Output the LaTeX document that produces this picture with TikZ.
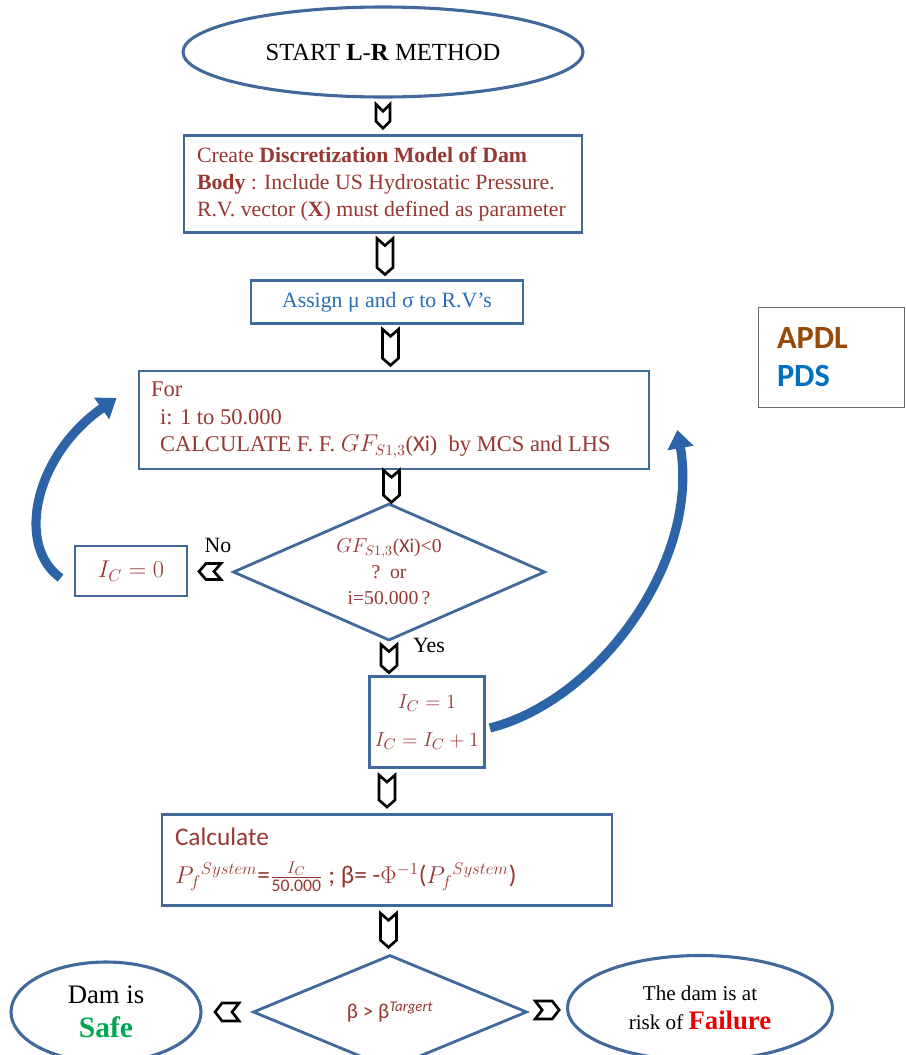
\documentclass[tikz,border=0pt]{standalone}
\usepackage{amsmath}
\usepackage{fontspec}
\setmainfont{Liberation Serif}
\setsansfont{Carlito}
\usetikzlibrary{shapes.geometric,arrows.meta,calc}

\definecolor{boxblue}{RGB}{65,105,155}
\definecolor{textred}{RGB}{150,55,50}
\definecolor{assignblue}{RGB}{40,110,180}
\definecolor{loopblue}{RGB}{45,100,168}
\definecolor{apdlbrown}{RGB}{152,72,7}
\definecolor{pdsblue}{RGB}{0,112,192}
\definecolor{safegreen}{RGB}{0,166,80}
\definecolor{failred}{RGB}{235,0,0}

\newlength\px
\setlength\px{0.025cm}

\begin{document}
\begin{tikzpicture}[
		x=0.025cm, y=-0.025cm,
		every node/.style={inner sep=0pt},
		blockbox/.style={draw=boxblue, line width=2pt, rectangle, align=flush left},
		termellipse/.style={draw=boxblue, line width=2.2pt, ellipse, align=center},
		decision/.style={draw=boxblue, line width=2pt, diamond, aspect=2.3, align=center},
		serif/.style={font=\fontsize{15.5}{19}\selectfont},
		looparrow/.style={draw=loopblue, line width=6.5pt, -{Triangle[length=13pt,width=18pt]}},
		pics/chev/.style args={#1/#2}{code={
				\draw[line width=1.9pt, fill=white] (-#2,-#1) -- (0,{-#1+7}) -- (#2,-#1) -- (#2,{#1-7}) -- (0,#1) -- (-#2,{#1-7}) -- cycle;
			}},
		]
		\useasboundingbox (0,0) rectangle (906,1055);
		
		%main column
		\node[termellipse, minimum width=400\px, minimum height=90\px, font=\fontsize{17.5}{20}\selectfont] (start) at (383,52) {START \textbf{L}-\textbf{R} METHOD};
		\node[blockbox, serif, text=textred, minimum width=398\px, minimum height=97\px, text width=372\px] (create) at (383,184) {Create \textbf{Discretization Model of Dam}\\ \textbf{Body} : Include US Hydrostatic Pressure.\\ R.V. vector (\textbf{X}) must defined as parameter};
		\node[blockbox, serif, text=assignblue, minimum width=272\px, minimum height=43\px, align=center] (assign) at (387,302) {Assign μ and σ to R.V’s};
		\node[blockbox, text=textred, minimum width=510\px, minimum height=98\px, text width=486\px, font=\fontsize{16}{19.5}\selectfont] (for) at (394,420) {For\\ \hspace{0.4em}i: 1 to 50.000\\ \hspace{0.4em}CALCULATE F. F. $GF_{S1,3}$(\textsf{Xi})\ \ by MCS and LHS};
		\node[decision, text=textred, minimum width=312\px, minimum height=137\px, font=\fontsize{14}{18.5}\selectfont] (cond) at (389,572) {$GF_{S1,3}$(\textsf{Xi})<0\\ ?\ \ or\\ i=50.000\,?};
		\node[blockbox, text=textred, minimum width=112\px, minimum height=50\px, align=center, font=\fontsize{17}{20}\selectfont] (ic0) at (131,571) {$I_C = 0$};
		\node[blockbox, text=textred, minimum width=115\px, minimum height=91\px, align=center, font=\fontsize{15.5}{27}\selectfont] (ic1) at (427,722) {$I_C = 1$\\ $I_C = I_C + 1$};
		\node[blockbox, text=textred, minimum width=450\px, minimum height=91\px, text width=424\px, font=\sffamily\fontsize{18}{27}\selectfont] (calc) at (387,860) {Calculate\\ $P_f{}^{System}$=$\frac{I_C}{\textsf{50.000}}$\ ; β= -$\Phi^{-1}$($P_f{}^{System}$)};
		\node[decision, text=textred, minimum width=274\px, minimum height=114\px, font=\sffamily\fontsize{15}{18}\selectfont] (check) at (390,1012) {β > β\textsuperscript{\itshape Targert}};
		
		%end states
		\node[termellipse, minimum width=190\px, minimum height=100\px, font=\fontsize{19}{24}\selectfont] (safe) at (106,1012) {Dam is\\ \textcolor{safegreen}{\fontsize{21}{24}\selectfont\bfseries Safe}};
		\node[termellipse, minimum width=265\px, minimum height=105\px, font=\fontsize{15}{21}\selectfont] (fail) at (700,1008) {The dam is at\\ risk of \textcolor{failred}{\fontsize{19}{21}\selectfont\bfseries Failure}};
		
		%legend
		\node[draw=black!60, line width=0.7pt, minimum width=146\px, minimum height=100\px, text width=108\px, align=left, font=\sffamily\bfseries\fontsize{23}{27}\selectfont] (legend) at (831,357) {\textcolor{apdlbrown}{APDL}\\ \textcolor{pdsblue}{PDS}};
		
		%branch labels
		\node[serif] (no) at (218,545) {No};
		\node[serif] (yes) at (429,645) {Yes};
		
		%chevrons
		\pic at ($(start.south)!0.5!(create.north)$) {chev=12/7};
		\pic at ($(create.south)!0.5!(assign.north)$) {chev=18/8};
		\pic at ($(assign.south)!0.5!(for.north)$) {chev=18/8};
		\pic at ($(for.south)!0.5!(cond.north)$) {chev=16/8};
		\pic at ($(cond.south)!0.5!(cond.south |- ic1.north)$) {chev=14/8};
		\pic at ($(ic1.south -| calc.north)!0.5!(calc.north)$) {chev=16/8};
		\pic at ($(calc.south)!0.5!(check.north)$) {chev=17/8};
		\pic[rotate=-90] at ($(ic0.east)!0.5!(cond.west)$) {chev=11/8};
		\pic[rotate=-90] at ($(safe.east)!0.5!(check.west)$) {chev=12/9};
		\pic[rotate=90] at ($(check.east)!0.5!(fail.west)$) {chev=12/9};
		
		%loop back arrows
		\draw[looparrow] ($(ic0.west)+(-13,7)$) .. controls (15,545) and (35,455) .. ($(for.west)+(-21,-22)$);
		\draw[looparrow] ($(ic1.east)+(4,6)$) .. controls (600,700) and (700,560) .. ($(for.east)+(27,10)$);
	\end{tikzpicture}
\end{document}
